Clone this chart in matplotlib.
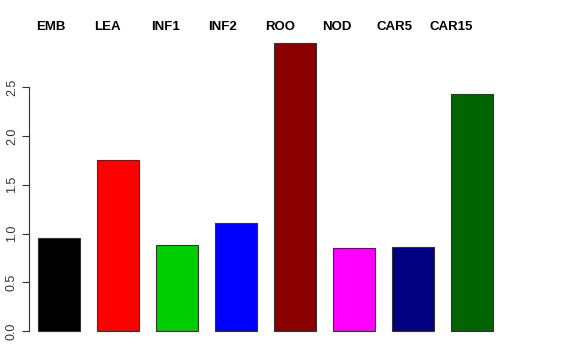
import numpy as np
import matplotlib
matplotlib.use("Agg")
import matplotlib.pyplot as plt

plt.rcParams['font.family'] = ['Liberation Sans', 'DejaVu Sans']

# data
tissues = ["EMB", "LEA", "INF1", "INF2", "ROO", "NOD", "CAR5", "CAR15"]
values = [0.95, 1.75, 0.88, 1.11, 2.95, 0.85, 0.86, 2.43]
colors = ["black", "red", "#00CD00", "blue", "#8B0000", "magenta", "#000080", "#006400"]
yticks = [0.0, 0.5, 1.0, 1.5, 2.0, 2.5]

W, H = 576, 360
pitch = 59.0      # pixels between bar centres
y0 = 331.0        # pixel row of y = 0
ppu = 97.5        # pixels per y unit

fig = plt.figure(figsize=(W / 100, H / 100), dpi=100)
ax = fig.add_axes([0, 0, 1, 1])
ax.set_xlim(-1, W / pitch - 1)
ax.set_ylim(-(H - y0) / ppu, y0 / ppu)

x = np.arange(len(tissues))
ax.bar(x, values, width=0.71, color=colors, edgecolor="#333333", linewidth=0.8)

# R-style left axis
for s in ["top", "right", "bottom"]:
    ax.spines[s].set_visible(False)
ax.spines["left"].set_position(("data", 29 / pitch - 1))
ax.spines["left"].set_bounds(0, 2.5)
ax.spines["left"].set_color("#333333")
ax.set_xticks([])
ax.set_yticks(yticks)
ax.set_yticklabels(["%.1f" % v for v in yticks], rotation=90, va="center",
                   fontsize=9, color="#333333")
ax.tick_params(axis="y", length=5, pad=3, color="#333333")

# labels along the top
for i, name in enumerate(tissues):
    px = 50.5 + 57.3 * i
    fig.text(px / W, 1 - 26.5 / H, name, ha="center", va="center",
             fontsize=9.5, fontweight="bold")

fig.savefig("out.png", dpi=100)
